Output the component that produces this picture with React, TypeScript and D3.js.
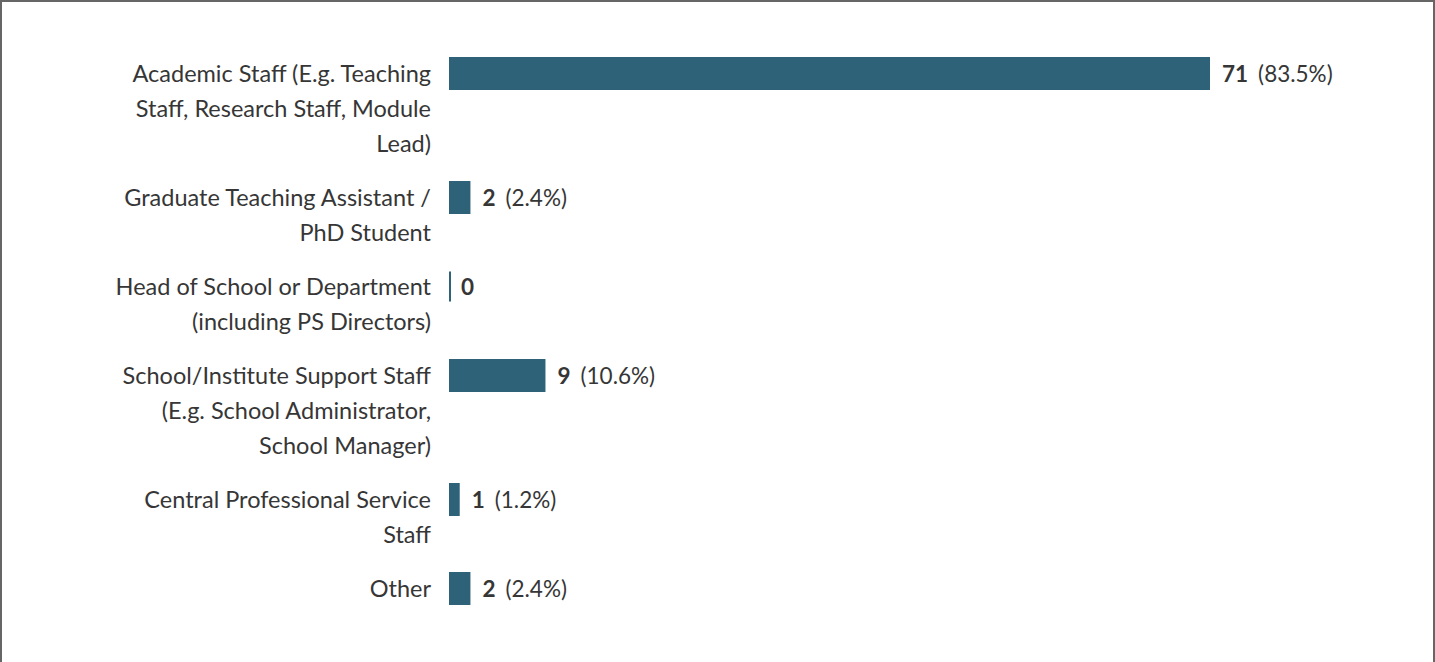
import React from "react";
import * as d3 from "d3";

const categories: string[][] = [
  ["Academic Staff (E.g. Teaching", "Staff, Research Staff, Module", "Lead)"],
  ["Graduate Teaching Assistant /", "PhD Student"],
  ["Head of School or Department", "(including PS Directors)"],
  ["School/Institute Support Staff", "(E.g. School Administrator,", "School Manager)"],
  ["Central Professional Service", "Staff"],
  ["Other"],
];
const counts: number[] = [71, 2, 0, 9, 1, 2];
const percents: string[] = ["83.5%", "2.4%", "", "10.6%", "1.2%", "2.4%"];

const W = 1435;
const H = 662;
const LINE = 35;
const GAP = 19;
const FIRST_Y = 73.5;
const BAR_H = 33;
const COLOR = "#2e6279";
const TEXT = "#363636";
const FS = 23.5;
const VFS = 22.5;

export default function App() {
  const x = d3.scaleLinear().domain([0, 71]).range([449, 1210]);
  const centers: number[] = [];
  let y = FIRST_Y;
  categories.forEach((lines) => {
    centers.push(y);
    y += lines.length * LINE + GAP;
  });
  return (
    <svg
      width={W}
      height={H}
      style={{ position: "fixed", left: 0, top: 0, background: "#fff" }}
      fontFamily="Lato, 'Open Sans', sans-serif"
    >
      <rect x={1} y={1} width={W - 2} height={H + 20} fill="#fff" stroke="#666" strokeWidth={2} />
      {categories.map((lines, i) => {
        const cy = centers[i];
        const v = counts[i];
        const w = v === 0 ? 2 : x(v) - x(0);
        const barH = v === 0 ? 30 : BAR_H;
        const endX = x(0) + w;
        return (
          <g key={i}>
            {lines.map((ln, j) => (
              <text
                key={j}
                x={431}
                y={cy + j * LINE - 1}
                textAnchor="end"
                dominantBaseline="central"
                fontSize={FS}
                fill={TEXT}
              >
                {ln}
              </text>
            ))}
            <rect x={x(0)} y={cy - barH / 2} width={w} height={barH} fill={COLOR} />
            <text
              x={endX + (v === 0 ? 10 : 12)}
              y={cy - 1}
              dominantBaseline="central"
              fontSize={VFS}
              fill={TEXT}
            >
              <tspan fontWeight="bold">{v}</tspan>
              {percents[i] ? <tspan dx={10}>({percents[i]})</tspan> : null}
            </text>
          </g>
        );
      })}
    </svg>
  );
}
